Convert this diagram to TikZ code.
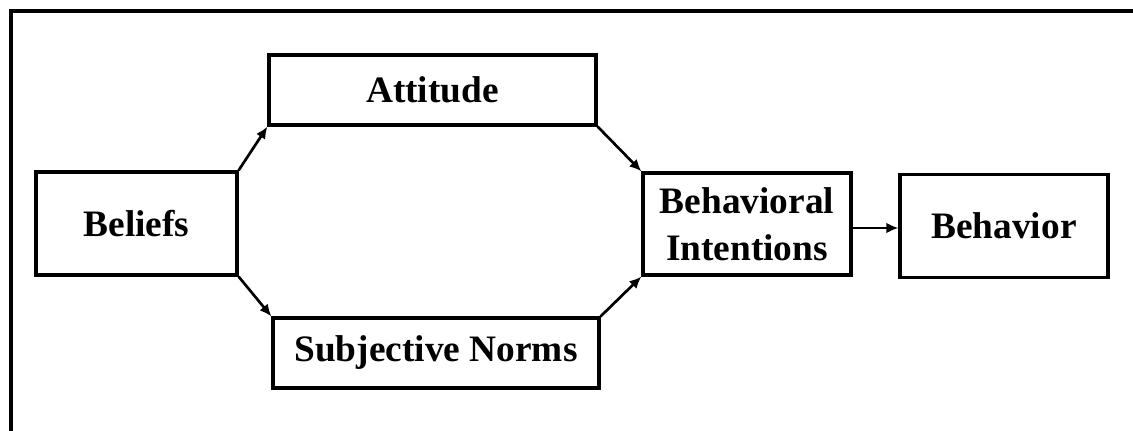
\documentclass[tikz,border=0pt]{standalone}
\usepackage{fontspec}
\setmainfont{Liberation Serif}
\usepackage{tikz}
\usetikzlibrary{positioning,arrows.meta}

\begin{document}
\begin{tikzpicture}[
    x=0.75pt, y=0.75pt,
    tpbbox/.style={rectangle, draw, line width=2.4pt, inner sep=0pt, align=center,
        font=\fontsize{28}{35}\selectfont\bfseries},
    flow/.style={-{Latex[length=9pt,width=8pt]}, line width=2pt}
]
    \useasboundingbox (0,0) rectangle (1133,431);
    \draw[line width=2.6pt] (11,-5) |- (1140,420);

    \node[tpbbox, minimum width=150.75pt, minimum height=77.25pt] (bel) at (136.5,207.5) {Beliefs};
    \node[tpbbox, minimum width=245.25pt, minimum height=52.5pt] (att) at (432.5,341) {Attitude};
    \node[tpbbox, minimum width=244.5pt, minimum height=52.5pt] (sn) at (436,78) {Subjective Norms};
    \node[tpbbox, minimum width=156pt, minimum height=76.5pt] (bi) at (747,207) {Behavioral\\Intentions};
    \node[tpbbox, minimum width=156pt, minimum height=77.25pt] (beh) at (1004,205) {Behavior};

    \draw[flow] (bel.north east) -- (att.south west);
    \draw[flow] (bel.south east) -- (sn.north west);
    \draw[flow] (att.south east) -- (bi.north west);
    \draw[flow] (sn.north east) -- (bi.south west);
    \draw[flow] ([yshift=-3pt]bi.east) -- ([yshift=-3pt]bi.east -| beh.west);
\end{tikzpicture}
\end{document}
